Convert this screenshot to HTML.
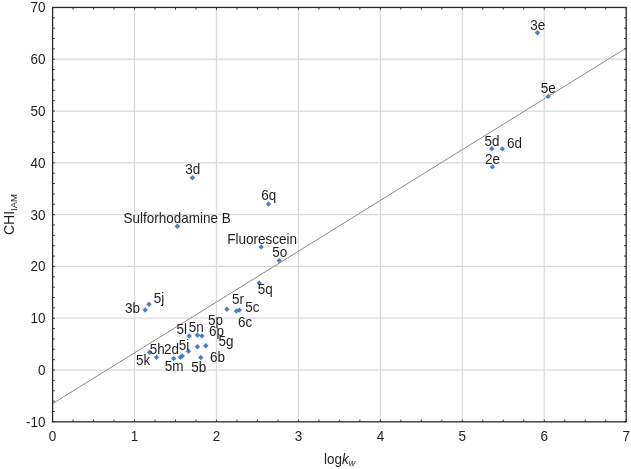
<!DOCTYPE html>
<html><head><meta charset="utf-8"><style>
html,body{margin:0;padding:0;background:#fff;}
svg{display:block;}
text{font-family:"Liberation Sans", sans-serif;fill:#1e1e1e;}
svg{will-change:transform;}
</style></head><body>
<svg width="631" height="469" viewBox="0 0 631 469">
<rect width="631" height="469" fill="#fff"/>

<path d="M134.54 7.45V421.80 M216.49 7.45V421.80 M298.43 7.45V421.80 M380.37 7.45V421.80 M462.31 7.45V421.80 M544.26 7.45V421.80 M52.60 370.01H626.20 M52.60 318.21H626.20 M52.60 266.42H626.20 M52.60 214.62H626.20 M52.60 162.83H626.20 M52.60 111.04H626.20 M52.60 59.24H626.20" stroke="#dadada" stroke-width="1.25" fill="none"/>
<path d="M52.60 403.62L626.20 48.06" stroke="#8a8a8a" stroke-width="1.0" fill="none"/>
<path d="M52.60 421.80v-2.2 M52.60 7.45v2.2 M73.09 421.80v-2.2 M73.09 7.45v2.2 M93.57 421.80v-2.2 M93.57 7.45v2.2 M114.06 421.80v-2.2 M114.06 7.45v2.2 M134.54 421.80v-2.2 M134.54 7.45v2.2 M155.03 421.80v-2.2 M155.03 7.45v2.2 M175.51 421.80v-2.2 M175.51 7.45v2.2 M196.00 421.80v-2.2 M196.00 7.45v2.2 M216.49 421.80v-2.2 M216.49 7.45v2.2 M236.97 421.80v-2.2 M236.97 7.45v2.2 M257.46 421.80v-2.2 M257.46 7.45v2.2 M277.94 421.80v-2.2 M277.94 7.45v2.2 M298.43 421.80v-2.2 M298.43 7.45v2.2 M318.91 421.80v-2.2 M318.91 7.45v2.2 M339.40 421.80v-2.2 M339.40 7.45v2.2 M359.89 421.80v-2.2 M359.89 7.45v2.2 M380.37 421.80v-2.2 M380.37 7.45v2.2 M400.86 421.80v-2.2 M400.86 7.45v2.2 M421.34 421.80v-2.2 M421.34 7.45v2.2 M441.83 421.80v-2.2 M441.83 7.45v2.2 M462.31 421.80v-2.2 M462.31 7.45v2.2 M482.80 421.80v-2.2 M482.80 7.45v2.2 M503.29 421.80v-2.2 M503.29 7.45v2.2 M523.77 421.80v-2.2 M523.77 7.45v2.2 M544.26 421.80v-2.2 M544.26 7.45v2.2 M564.74 421.80v-2.2 M564.74 7.45v2.2 M585.23 421.80v-2.2 M585.23 7.45v2.2 M605.71 421.80v-2.2 M605.71 7.45v2.2 M626.20 421.80v-2.2 M626.20 7.45v2.2 M52.60 421.80h2.2 M626.20 421.80h-2.2 M52.60 411.44h2.2 M626.20 411.44h-2.2 M52.60 401.08h2.2 M626.20 401.08h-2.2 M52.60 390.72h2.2 M626.20 390.72h-2.2 M52.60 380.37h2.2 M626.20 380.37h-2.2 M52.60 370.01h2.2 M626.20 370.01h-2.2 M52.60 359.65h2.2 M626.20 359.65h-2.2 M52.60 349.29h2.2 M626.20 349.29h-2.2 M52.60 338.93h2.2 M626.20 338.93h-2.2 M52.60 328.57h2.2 M626.20 328.57h-2.2 M52.60 318.21h2.2 M626.20 318.21h-2.2 M52.60 307.85h2.2 M626.20 307.85h-2.2 M52.60 297.50h2.2 M626.20 297.50h-2.2 M52.60 287.14h2.2 M626.20 287.14h-2.2 M52.60 276.78h2.2 M626.20 276.78h-2.2 M52.60 266.42h2.2 M626.20 266.42h-2.2 M52.60 256.06h2.2 M626.20 256.06h-2.2 M52.60 245.70h2.2 M626.20 245.70h-2.2 M52.60 235.34h2.2 M626.20 235.34h-2.2 M52.60 224.98h2.2 M626.20 224.98h-2.2 M52.60 214.62h2.2 M626.20 214.62h-2.2 M52.60 204.27h2.2 M626.20 204.27h-2.2 M52.60 193.91h2.2 M626.20 193.91h-2.2 M52.60 183.55h2.2 M626.20 183.55h-2.2 M52.60 173.19h2.2 M626.20 173.19h-2.2 M52.60 162.83h2.2 M626.20 162.83h-2.2 M52.60 152.47h2.2 M626.20 152.47h-2.2 M52.60 142.11h2.2 M626.20 142.11h-2.2 M52.60 131.76h2.2 M626.20 131.76h-2.2 M52.60 121.40h2.2 M626.20 121.40h-2.2 M52.60 111.04h2.2 M626.20 111.04h-2.2 M52.60 100.68h2.2 M626.20 100.68h-2.2 M52.60 90.32h2.2 M626.20 90.32h-2.2 M52.60 79.96h2.2 M626.20 79.96h-2.2 M52.60 69.60h2.2 M626.20 69.60h-2.2 M52.60 59.24h2.2 M626.20 59.24h-2.2 M52.60 48.89h2.2 M626.20 48.89h-2.2 M52.60 38.53h2.2 M626.20 38.53h-2.2 M52.60 28.17h2.2 M626.20 28.17h-2.2 M52.60 17.81h2.2 M626.20 17.81h-2.2 M52.60 7.45h2.2 M626.20 7.45h-2.2" stroke="#333" stroke-width="1" fill="none"/>
<rect x="52.60" y="7.45" width="573.60" height="414.35" stroke="#2a2a2a" stroke-width="1.3" fill="none"/>
<path d="M537.50 30.10L540.20 32.80L537.50 35.50L534.80 32.80Z M548.20 93.70L550.90 96.40L548.20 99.10L545.50 96.40Z M491.80 146.10L494.50 148.80L491.80 151.50L489.10 148.80Z M502.40 146.20L505.10 148.90L502.40 151.60L499.70 148.90Z M492.40 164.20L495.10 166.90L492.40 169.60L489.70 166.90Z M192.40 175.10L195.10 177.80L192.40 180.50L189.70 177.80Z M268.50 201.40L271.20 204.10L268.50 206.80L265.80 204.10Z M177.30 223.60L180.00 226.30L177.30 229.00L174.60 226.30Z M261.20 244.20L263.90 246.90L261.20 249.60L258.50 246.90Z M279.20 257.90L281.90 260.60L279.20 263.30L276.50 260.60Z M259.20 280.30L261.90 283.00L259.20 285.70L256.50 283.00Z M226.90 306.60L229.60 309.30L226.90 312.00L224.20 309.30Z M236.50 308.30L239.20 311.00L236.50 313.70L233.80 311.00Z M239.30 307.40L242.00 310.10L239.30 312.80L236.60 310.10Z M145.20 307.30L147.90 310.00L145.20 312.70L142.50 310.00Z M149.00 301.60L151.70 304.30L149.00 307.00L146.30 304.30Z M189.20 333.30L191.90 336.00L189.20 338.70L186.50 336.00Z M197.40 332.25L200.10 334.95L197.40 337.65L194.70 334.95Z M201.90 333.20L204.60 335.90L201.90 338.60L199.20 335.90Z M197.40 344.00L200.10 346.70L197.40 349.40L194.70 346.70Z M205.80 343.10L208.50 345.80L205.80 348.50L203.10 345.80Z M188.40 348.60L191.10 351.30L188.40 354.00L185.70 351.30Z M200.80 354.80L203.50 357.50L200.80 360.20L198.10 357.50Z M180.50 354.50L183.20 357.20L180.50 359.90L177.80 357.20Z M182.20 353.30L184.90 356.00L182.20 358.70L179.50 356.00Z M173.70 355.90L176.40 358.60L173.70 361.30L171.00 358.60Z M149.70 349.60L152.40 352.30L149.70 355.00L147.00 352.30Z M156.60 354.60L159.30 357.30L156.60 360.00L153.90 357.30Z" fill="#4780c4"/>
<text transform="translate(530.24 29.60) scale(0.963 1)" font-size="14">3e</text>
<text transform="translate(540.86 93.20) scale(0.963 1)" font-size="14">5e</text>
<text transform="translate(484.51 145.50) scale(0.963 1)" font-size="14">5d</text>
<text transform="translate(506.91 147.70) scale(0.963 1)" font-size="14">6d</text>
<text transform="translate(484.93 164.10) scale(0.963 1)" font-size="14">2e</text>
<text transform="translate(185.29 174.30) scale(0.963 1)" font-size="14">3d</text>
<text transform="translate(261.26 200.40) scale(0.963 1)" font-size="14">6q</text>
<text transform="translate(123.53 223.20) scale(0.963 1)" font-size="14">Sulforhodamine B</text>
<text transform="translate(227.29 244.20) scale(0.963 1)" font-size="14">Fluorescein</text>
<text transform="translate(272.31 257.20) scale(0.963 1)" font-size="14">5o</text>
<text transform="translate(257.81 294.10) scale(0.963 1)" font-size="14">5q</text>
<text transform="translate(232.11 303.80) scale(0.963 1)" font-size="14">5r</text>
<text transform="translate(245.31 311.80) scale(0.963 1)" font-size="14">5c</text>
<text transform="translate(237.96 326.80) scale(0.963 1)" font-size="14">6c</text>
<text transform="translate(208.01 325.10) scale(0.963 1)" font-size="14">5p</text>
<text transform="translate(209.06 335.60) scale(0.963 1)" font-size="14">6p</text>
<text transform="translate(218.51 345.90) scale(0.963 1)" font-size="14">5g</text>
<text transform="translate(176.41 333.60) scale(0.963 1)" font-size="14">5l</text>
<text transform="translate(188.81 332.20) scale(0.963 1)" font-size="14">5n</text>
<text transform="translate(178.71 349.60) scale(0.963 1)" font-size="14">5i</text>
<text transform="translate(209.96 362.20) scale(0.963 1)" font-size="14">6b</text>
<text transform="translate(191.21 372.10) scale(0.963 1)" font-size="14">5b</text>
<text transform="translate(149.71 354.20) scale(0.963 1)" font-size="14">5h</text>
<text transform="translate(164.03 354.20) scale(0.963 1)" font-size="14">2d</text>
<text transform="translate(136.11 364.60) scale(0.963 1)" font-size="14">5k</text>
<text transform="translate(164.66 370.80) scale(0.963 1)" font-size="14">5m</text>
<text transform="translate(125.04 312.60) scale(0.963 1)" font-size="14">3b</text>
<text transform="translate(153.71 302.90) scale(0.963 1)" font-size="14">5j</text>
<text transform="translate(45.6 426.70) scale(0.963 1)" font-size="14" text-anchor="end">-10</text>
<text transform="translate(45.6 374.91) scale(0.963 1)" font-size="14" text-anchor="end">0</text>
<text transform="translate(45.6 323.11) scale(0.963 1)" font-size="14" text-anchor="end">10</text>
<text transform="translate(45.6 271.32) scale(0.963 1)" font-size="14" text-anchor="end">20</text>
<text transform="translate(45.6 219.53) scale(0.963 1)" font-size="14" text-anchor="end">30</text>
<text transform="translate(45.6 167.73) scale(0.963 1)" font-size="14" text-anchor="end">40</text>
<text transform="translate(45.6 115.94) scale(0.963 1)" font-size="14" text-anchor="end">50</text>
<text transform="translate(45.6 64.14) scale(0.963 1)" font-size="14" text-anchor="end">60</text>
<text transform="translate(45.6 12.35) scale(0.963 1)" font-size="14" text-anchor="end">70</text>
<text transform="translate(52.60 441.0) scale(0.963 1)" font-size="14" text-anchor="middle">0</text>
<text transform="translate(134.54 441.0) scale(0.963 1)" font-size="14" text-anchor="middle">1</text>
<text transform="translate(216.49 441.0) scale(0.963 1)" font-size="14" text-anchor="middle">2</text>
<text transform="translate(298.43 441.0) scale(0.963 1)" font-size="14" text-anchor="middle">3</text>
<text transform="translate(380.37 441.0) scale(0.963 1)" font-size="14" text-anchor="middle">4</text>
<text transform="translate(462.31 441.0) scale(0.963 1)" font-size="14" text-anchor="middle">5</text>
<text transform="translate(544.26 441.0) scale(0.963 1)" font-size="14" text-anchor="middle">6</text>
<text transform="translate(626.20 441.0) scale(0.963 1)" font-size="14" text-anchor="middle">7</text>
<text transform="translate(324.0 463.8) scale(0.963 1)" font-size="14">log<tspan font-style="italic">k</tspan><tspan font-size="9.2" font-style="italic" dy="2.4">w</tspan></text>
<text transform="translate(14.1 235) rotate(-90)" font-size="14">CHI<tspan font-size="9.5" dy="2.7">IAM</tspan></text>
</svg></body></html>
